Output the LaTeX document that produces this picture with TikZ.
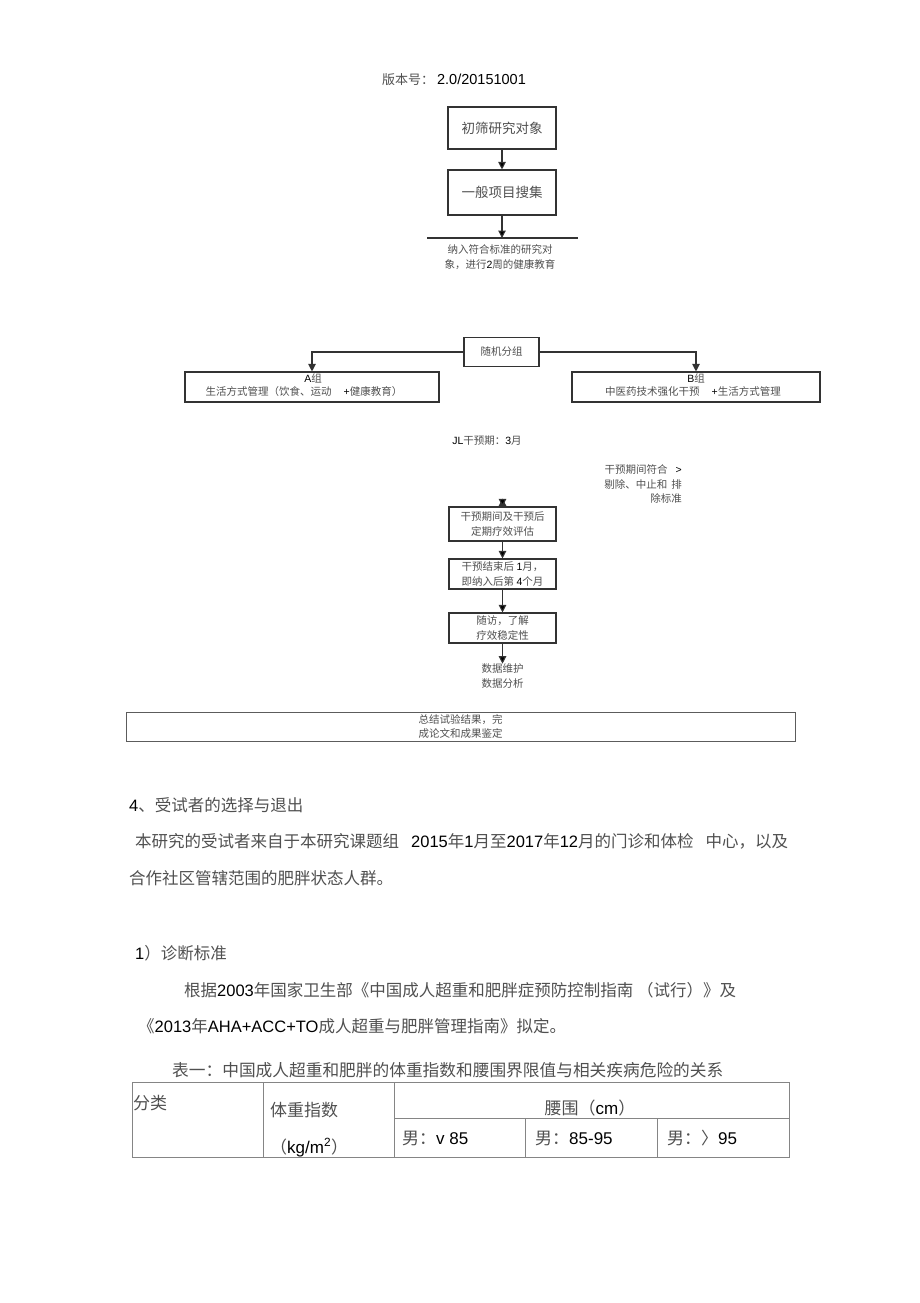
\documentclass[tikz,border=0pt]{standalone}
\usepackage{fontspec}
\setmainfont{Noto Sans CJK SC}
\newfontfamily\latfont{Liberation Sans}
\usetikzlibrary{arrows.meta}
\definecolor{txt}{HTML}{505050}
\definecolor{frame}{HTML}{333333}
\definecolor{rule}{HTML}{858585}
\newcommand{\en}[1]{{\latfont\color{black}#1}}
\newcommand{\dsz}{\fontsize{10.5}{14.5}\selectfont}
\newcommand{\bsz}{\fontsize{16.5}{20}\selectfont}
\newcommand{\tsz}{\fontsize{17}{20}\selectfont}

\begin{document}
\begin{tikzpicture}[x=1pt,y=-1pt,
	box/.style={draw=frame,line width=1.1pt,inner sep=0pt,align=center,text=txt,font=\dsz},
	lbl/.style={inner sep=0pt,align=center,text=txt,font=\dsz},
	txtline/.style={text=txt,inner sep=0pt,anchor=base west,font=\bsz},
	tabtext/.style={text=txt,inner sep=0pt,anchor=base west,font=\tsz},
	flow/.style={draw=frame,line width=1.1pt,-{Triangle[length=7.5pt,width=7.5pt]}}]
	\fill[white] (0,0) rectangle (920,1303);
	\useasboundingbox (0,0) rectangle (920,1303);

	\node[lbl] (ver) at (454,80) {{\fontsize{13}{15}\selectfont 版本号：}\hspace{3pt}\en{\fontsize{14.5}{15}\selectfont 2.0/20151001}};
	\node[box,minimum width=108,minimum height=42,font=\fontsize{13.5}{16}\selectfont] (b1) at (502,128) {初筛研究对象};
	\node[box,minimum width=108,minimum height=45,font=\fontsize{13.5}{16}\selectfont] (b2) at (502,192.5) {一般项目搜集};
	\coordinate (barL) at (427,238);
	\coordinate (barR) at (578,238);
	\coordinate (barM) at (502,238);
	\node[lbl] (enrol) at (500,257) {纳入符合标准的研究对\\象，进行\en{2}周的健康教育};

	\node[box,minimum width=75,minimum height=29] (rand) at (501.5,352) {随机分组};
	\node[box,minimum width=254,minimum height=30] (gA) at (312,387) {};
	\node[lbl] (gAn) at (313,378) {\en{A}组};
	\node[lbl] (gAt) at (304,392) {生活方式管理（饮食、运动\hspace{12pt}\en{+}健康教育）};
	\node[box,minimum width=248,minimum height=30] (gB) at (696,387) {};
	\node[lbl] (gBn) at (696,378) {\en{B}组};
	\node[lbl] (gBt) at (693,392) {中医药技术强化干预\hspace{12pt}\en{+}生活方式管理};

	\node[lbl] (term) at (487,441) {\en{JL}干预期：\en{3}月};
	\node[lbl,align=right,anchor=east] (drop) at (682,484) {干预期间符合\hspace{8pt}\en{>}\\剔除、中止和\hspace{4pt}排\\除标准};
	\coordinate (in3) at (502.5,498.5);
	\node[box,minimum width=107,minimum height=34] (b3) at (502.5,524) {干预期间及干预后\\定期疗效评估};
	\node[box,minimum width=107,minimum height=30] (b4) at (502.5,574) {干预结束后 \en{1}月，\\即纳入后第 \en{4}个月};
	\node[box,minimum width=107,minimum height=30] (b5) at (502.5,628) {随访，了解\\疗效稳定性};
	\node[lbl] (data) at (502.5,676) {数据维护\\数据分析};
	\node[box,minimum width=669,minimum height=29,line width=0.8pt,draw=frame!80] (sum) at (460.5,726.5) {总结试验结果，完\\成论文和成果鉴定};

	\draw[frame,line width=1.1pt] (barL) -- (barR);
	\path[flow]
	(b1) edge (b2)
	(b2) edge (barM)
	(in3) edge (b3)
	(b3) edge (b4)
	(b4) edge (b5)
	(b5) edge (data);
	\draw[flow] (rand.west) -| (gA.north);
	\draw[flow] (rand.east) -| (gB.north);

	\node[txtline] (sec) at (129,811) {\en{4}、受试者的选择与退出};
	\node[txtline] (para1) at (135,847) {本研究的受试者来自于本研究课题组\hspace{12pt}\en{2015}年\en{1}月至\en{2017}年\en{12}月的门诊和体检\hspace{12pt}中心，以及};
	\node[txtline] (para2) at (129,884) {合作社区管辖范围的肥胖状态人群。};
	\node[txtline] (sub) at (135,959) {\en{1}）诊断标准};
	\node[txtline] (basis1) at (184,996) {根据\en{2003}年国家卫生部《中国成人超重和肥胖症预防控制指南 （试行）》及};
	\node[txtline] (basis2) at (138,1032) {《\en{2013}年\en{AHA+ACC+TO}成人超重与肥胖管理指南》拟定。};
	\node[tabtext,font=\fontsize{16.7}{20}\selectfont] (cap) at (172,1076) {表一：中国成人超重和肥胖的体重指数和腰围界限值与相关疾病危险的关系};

	\draw[rule,line width=0.8pt] (132,1082) rectangle (789,1157)
	(263,1082) -- (263,1157)
	(394,1082) -- (394,1157)
	(394,1118) -- (789,1118)
	(525,1118) -- (525,1157)
	(657,1118) -- (657,1157);
	\node[tabtext] (kind) at (133,1109) {分类};
	\node[tabtext] (bmi) at (270,1116) {体重指数};
	\node[tabtext] (unit) at (270,1153) {（\en{kg/m\textsuperscript{2}}）};
	\node[tabtext,anchor=base] (waist) at (590,1114) {腰围（\en{cm}）};
	\node[tabtext] (m1) at (402,1144) {男：\en{v 85}};
	\node[tabtext] (m2) at (535,1144) {男：\en{85-95}};
	\node[tabtext] (m3) at (667,1144) {男：〉\en{95}};
\end{tikzpicture}
\end{document}
